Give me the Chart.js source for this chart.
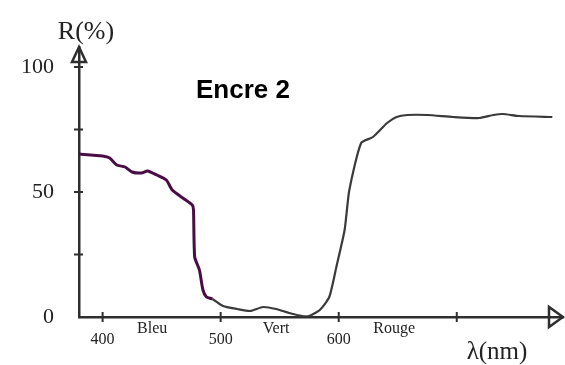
<!DOCTYPE html>
<html>
<head>
<meta charset="utf-8">
<script src="https://cdn.jsdelivr.net/npm/chart.js@4"></script>
<style>
  html, body { margin: 0; padding: 0; background: #fff; }
  #wrap { width: 565px; height: 365px; }
</style>
</head>
<body>
<div id="wrap"><canvas id="spectre" width="565" height="365"></canvas></div>
<script>
// Reflectance curve of "Encre 2"
const wavelengths = [379, 400, 406, 412, 419, 425, 433, 438, 446, 454, 459, 468, 476, 477, 478, 482, 485, 488, 493,
  502, 514, 525, 536, 547, 558, 569, 575, 584, 592, 598, 605, 609, 619, 629, 641, 649, 658, 675, 697, 719, 731, 739, 753, 781];
const reflectance = [65.2, 64.4, 63.6, 60.8, 60, 58, 57.6, 58.4, 56.8, 54.8, 50.8, 47.6, 44.8, 42.8, 24, 18.8, 10.8, 8, 7.2,
  4.4, 3.2, 2.4, 4, 3.2, 1.6, 0.4, 0.4, 2.8, 8, 20, 34.8, 50.8, 69.6, 72, 77.6, 80, 80.8, 80.8, 80, 79.6, 80.8, 81.2, 80.4, 80];

const xTickValues = [400, 500, 600, 700];
const xTickLabels = ['400', '500', '600', ''];
const yTickValues = [0, 25, 50, 75, 100];
const yTickLabels = ['0', '', '50', '', '100'];

const bandNames = ['Bleu', 'Vert', 'Rouge'];
const bandCenters = [442, 547, 647];

const purpleEnd = 493;
const axisColor = '#2e2e2e';
const inkPurple = '#4a0c45';
const inkGray = '#3a3a3a';

// tick marks crossing the axes, arrows and free text
const decor = {
  id: 'decor',
  afterDraw(chart) {
    const c = chart.ctx, a = chart.chartArea;
    const xs = chart.scales.x, ys = chart.scales.y;
    c.save();
    c.strokeStyle = axisColor;
    c.lineWidth = 2;
    xs.ticks.forEach(t => {
      const px = xs.getPixelForValue(t.value);
      c.beginPath(); c.moveTo(px, a.bottom - 5); c.lineTo(px, a.bottom + 5); c.stroke();
    });
    ys.ticks.forEach(t => {
      if (t.value === 0) return;
      const py = ys.getPixelForValue(t.value);
      c.beginPath(); c.moveTo(a.left - 5, py); c.lineTo(a.left + 4, py); c.stroke();
    });
    // y arrow (open triangle)
    c.lineWidth = 2.5;
    c.beginPath();
    c.moveTo(a.left, a.top);
    c.lineTo(a.left - 7, a.top + 15);
    c.lineTo(a.left + 7, a.top + 15);
    c.closePath();
    c.stroke();
    // x arrow
    c.beginPath();
    c.moveTo(a.right, a.bottom);
    c.lineTo(a.right - 14, a.bottom - 10);
    c.lineTo(a.right - 14, a.bottom + 10);
    c.closePath();
    c.stroke();

    c.fillStyle = '#222';
    c.textAlign = 'center';
    c.textBaseline = 'middle';
    c.font = '16px "Liberation Serif"';
    bandNames.forEach((n, i) => {
      c.fillText(n, xs.getPixelForValue(bandCenters[i]), a.bottom + 12);
    });
    c.font = '25px "Liberation Serif"';
    c.fillText('λ(nm)', a.left + 418, a.bottom + 35);
    c.font = '26px "Liberation Serif"';
    c.fillText('R(%)', a.left + 7, a.top - 15);
    c.fillStyle = '#000';
    c.font = 'bold 26px "Liberation Sans"';
    c.fillText('Encre 2', a.left + 164, a.top + 44);
    c.restore();
  }
};

new Chart(document.getElementById('spectre'), {
  type: 'line',
  data: {
    datasets: [{
      data: wavelengths.map((w, i) => ({ x: w, y: reflectance[i] })),
      borderColor: inkGray,
      borderWidth: 2.2,
      pointRadius: 0,
      tension: 0.2,
      segment: {
        borderColor: ctx => ctx.p0.parsed.x < purpleEnd ? inkPurple : inkGray,
        borderWidth: ctx => ctx.p0.parsed.x < purpleEnd ? 3 : 2.2
      }
    }]
  },
  options: {
    responsive: false,
    animation: false,
    layout: { padding: { left: 0, top: 47, right: 2, bottom: 0 } },
    plugins: { legend: { display: false }, tooltip: { enabled: false } },
    scales: {
      x: {
        type: 'linear',
        min: 380,
        max: 790,
        afterBuildTicks: s => { s.ticks = xTickValues.map(v => ({ value: v })); },
        afterFit: s => { s.height = 48; },
        grid: { display: false, drawTicks: false },
        border: { display: true, color: axisColor, width: 2.5 },
        ticks: {
          padding: 13,
          color: '#222',
          font: { family: 'Liberation Serif', size: 16 },
          callback: v => xTickLabels[xTickValues.indexOf(v)] ?? ''
        }
      },
      y: {
        min: 0,
        max: 108,
        afterBuildTicks: s => { s.ticks = yTickValues.map(v => ({ value: v })); },
        afterFit: s => { s.width = 79; },
        grid: { display: false, drawTicks: false },
        border: { display: true, color: axisColor, width: 2.5 },
        ticks: {
          padding: 25,
          color: '#222',
          font: { family: 'Liberation Serif', size: 22 },
          callback: v => yTickLabels[yTickValues.indexOf(v)] ?? ''
        }
      }
    }
  },
  plugins: [decor]
});
</script>
</body>
</html>
